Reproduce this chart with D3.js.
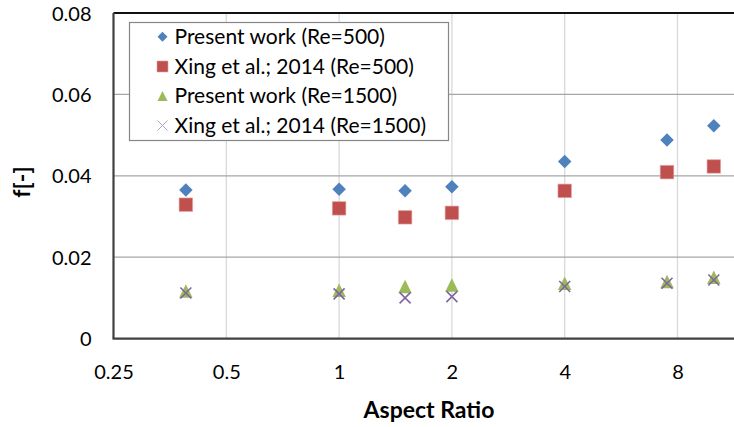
<!DOCTYPE html>
<html>
<head>
<meta charset="utf-8">
<script src="https://cdn.jsdelivr.net/npm/d3@7"></script>
<style>
  html, body { margin: 0; padding: 0; background: #fff; overflow: hidden; }
  svg { display: block; font-family: Lato, "Open Sans", sans-serif; }
</style>
</head>
<body>
<svg id="chart" width="734" height="427"></svg>
<script>
// Friction factor vs aspect ratio
const aspectRatio = [0.39, 1, 1.5, 2, 4, 7.5, 10];
const present500 = [0.0365, 0.0367, 0.0363, 0.0373, 0.0435, 0.0488, 0.0523];
const xing500    = [0.0329, 0.0320, 0.0298, 0.0309, 0.0363, 0.0409, 0.0423];
const present1500 = [0.0117, 0.0119, 0.0128, 0.0132, 0.0136, 0.0140, 0.0151];
const xing1500    = [0.0112, 0.0110, 0.0100, 0.0103, 0.0128, 0.0136, 0.0144];

const xTicks = [0.25, 0.5, 1, 2, 4, 8];
const xTickLabels = ["0.25", "0.5", "1", "2", "4", "8"];
const yTicks = [0, 0.02, 0.04, 0.06, 0.08];
const yTickLabels = ["0", "0.02", "0.04", "0.06", "0.08"];

const seriesNames = [
  "Present work (Re=500)",
  "Xing et al.; 2014 (Re=500)",
  "Present work (Re=1500)",
  "Xing et al.; 2014 (Re=1500)"
];
const seriesColors = ["#4F81BD", "#C0504D", "#9BBB59", "#8064A2"];
const seriesShapes = ["diamond", "square", "triangle", "cross"];
const seriesValues = [present500, xing500, present1500, xing1500];

const svg = d3.select("#chart");
const plotLeft = 113.5, plotTop = 13, plotBottom = 338.6, plotRight = 734;
const octave = 112.8;

const x = d3.scaleLog().base(2).domain([0.25, 16]).range([plotLeft, plotLeft + 6 * octave]);
const y = d3.scaleLinear().domain([0, 0.08]).range([plotBottom, plotTop]);

// gridlines
svg.append("g").selectAll("line").data(xTicks.slice(1)).join("line")
  .attr("x1", d => x(d)).attr("x2", d => x(d))
  .attr("y1", plotTop).attr("y2", plotBottom)
  .attr("stroke", "#d9d9d9").attr("stroke-width", 1.3);
svg.append("g").selectAll("line").data(yTicks.slice(1, -1)).join("line")
  .attr("x1", plotLeft).attr("x2", plotRight)
  .attr("y1", d => y(d)).attr("y2", d => y(d))
  .attr("stroke", "#a6a6a6").attr("stroke-width", 1.3);

// frame
svg.append("line").attr("x1", plotLeft).attr("x2", plotRight).attr("y1", plotTop).attr("y2", plotTop)
  .attr("stroke", "#111").attr("stroke-width", 2);
svg.append("line").attr("x1", plotLeft).attr("x2", plotLeft).attr("y1", plotTop).attr("y2", plotBottom)
  .attr("stroke", "#404040").attr("stroke-width", 2.2);
svg.append("line").attr("x1", plotLeft - 1).attr("x2", plotRight).attr("y1", plotBottom).attr("y2", plotBottom)
  .attr("stroke", "#404040").attr("stroke-width", 2.2);

// axes (labels only)
const xAxis = d3.axisBottom(x).tickValues(xTicks)
  .tickFormat((d, i) => xTickLabels[i]).tickSize(0).tickPadding(0);
const gx = svg.append("g").attr("transform", `translate(0,${plotBottom})`).call(xAxis);
gx.select(".domain").remove();
gx.selectAll("text").attr("font-family", "Lato, sans-serif").attr("font-size", 20)
  .attr("fill", "#000").attr("y", 33).attr("dy", "0.35em");

const yAxis = d3.axisLeft(y).tickValues(yTicks)
  .tickFormat((d, i) => yTickLabels[i]).tickSize(0).tickPadding(0);
const gy = svg.append("g").attr("transform", `translate(${plotLeft},0)`).call(yAxis);
gy.select(".domain").remove();
gy.selectAll("text").attr("font-family", "Lato, sans-serif").attr("font-size", 20)
  .attr("fill", "#000").attr("x", -22).attr("dy", "0.35em");

// axis titles
svg.append("text").attr("x", 429).attr("y", 410).attr("text-anchor", "middle")
  .attr("dy", "0.35em").attr("font-weight", "bold").attr("font-size", 23)
  .text("Aspect Ratio");
svg.append("text").attr("transform", "translate(22,182) rotate(-90)")
  .attr("text-anchor", "middle").attr("dy", "0.35em")
  .attr("font-weight", "bold").attr("font-size", 23).text("f[-]");

// marker paths
function markerPath(shape, s) {
  const h = s / 2;
  if (shape === "diamond") return `M0,${-h}L${h},0L0,${h}L${-h},0Z`;
  if (shape === "square") return `M${-h},${-h}H${h}V${h}H${-h}Z`;
  if (shape === "triangle") return `M0,${-h}L${h},${h}L${-h},${h}Z`;
  return `M${-h},${-h}L${h},${h}M${h},${-h}L${-h},${h}`;
}
function styleMarker(sel, i, lw) {
  if (seriesShapes[i] === "cross") {
    sel.attr("fill", "none").attr("stroke", seriesColors[i]).attr("stroke-width", lw);
  } else {
    sel.attr("fill", seriesColors[i]);
    if (seriesShapes[i] === "square") sel.attr("stroke", "#e3a3a1").attr("stroke-width", 0.6);
  }
}
const markerSize = [13.5, 13.5, 13.5, 11];

seriesValues.forEach((vals, i) => {
  const g = svg.append("g");
  g.selectAll("path").data(vals).join("path")
    .attr("transform", (d, j) => `translate(${x(aspectRatio[j])},${y(d)})`)
    .attr("d", markerPath(seriesShapes[i], markerSize[i]))
    .call(sel => styleMarker(sel, i, 1.6));
});

// legend
const lg = svg.append("g");
lg.append("rect").attr("x", 129.5).attr("y", 22.5).attr("width", 319).attr("height", 118)
  .attr("fill", "#fff").attr("stroke", "#868686").attr("stroke-width", 1.2);
const rowY = [36.7, 66.5, 96, 125.5];
const legendSize = [10, 11, 10, 10];
seriesNames.forEach((name, i) => {
  const p = lg.append("path").attr("transform", `translate(162.5,${rowY[i]})`)
    .attr("d", markerPath(seriesShapes[i], legendSize[i]))
    .call(sel => styleMarker(sel, i, 1));
  if (seriesShapes[i] === "cross") p.attr("stroke", "#b3a2c7");
  lg.append("text").attr("x", 174.5).attr("y", rowY[i]).attr("dy", "0.35em")
    .attr("font-size", 21).attr("fill", "#000").text(name);
});
</script>
</body>
</html>
